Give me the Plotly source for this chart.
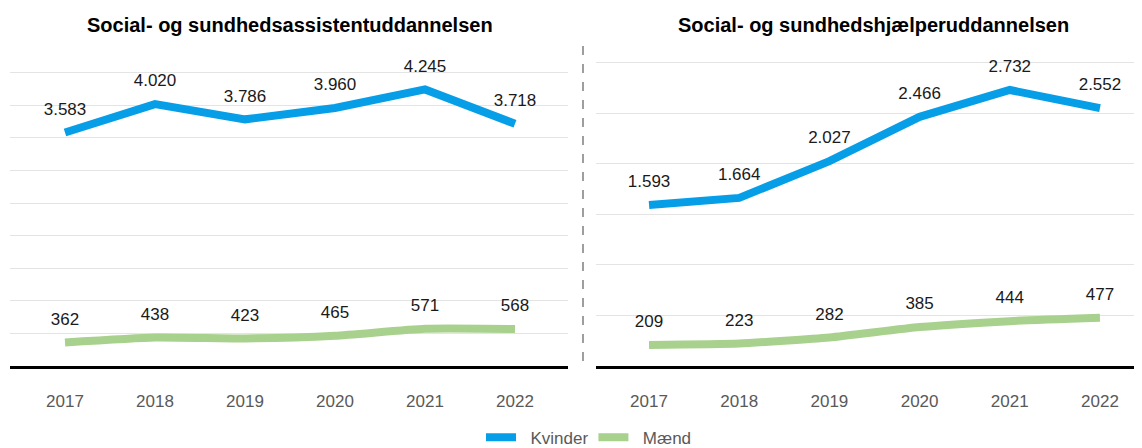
import plotly.graph_objects as go

aar = ["2017", "2018", "2019", "2020", "2021", "2022"]

assistent_kvinder = [3583, 4020, 3786, 3960, 4245, 3718]
assistent_maend = [362, 438, 423, 465, 571, 568]

hjaelper_kvinder = [1593, 1664, 2027, 2466, 2732, 2552]
hjaelper_maend = [209, 223, 282, 385, 444, 477]

titler = ["Social- og sundhedsassistentuddannelsen", "Social- og sundhedshjælperuddannelsen"]
serier = ["Kvinder", "Mænd"]

BLAA = "#079ee8"
GROEN = "#a9d18e"
FONT = "Liberation Sans, Arial, sans-serif"

# siden har 8px kant i browseren; figuren må gerne gå ud over bunden (legenden skæres)
W, H = 1134, 448
T, B = 37, 88
PH = H - T - B


def linje(x, y, navn, farve, akse, vis, form):
    return go.Scatter(
        x=x, y=y, name="\u00a0\u00a0" + navn, mode="lines+markers+text",
        line=dict(color=farve, width=8, shape=form, smoothing=0.5),
        marker=dict(size=20, color="rgba(0,0,0,0)"),
        texttemplate="%{y:,}", textposition="top center",
        textfont=dict(size=17, color="#1a1a1a", family=FONT),
        cliponaxis=False, showlegend=vis, legendgroup=navn,
        xaxis="x" + akse, yaxis="y" + akse,
    )


fig = go.Figure()
fig.add_trace(linje(aar, assistent_kvinder, serier[0], BLAA, "", True, "linear"))
fig.add_trace(linje(aar, assistent_maend, serier[1], GROEN, "", True, "spline"))
fig.add_trace(linje(aar, hjaelper_kvinder, serier[0], BLAA, "2", False, "linear"))
fig.add_trace(linje(aar, hjaelper_maend, serier[1], GROEN, "2", False, "spline"))

xakse = dict(
    type="category", showgrid=False, showline=True, linecolor="black", linewidth=3,
    ticks="", ticklabelstandoff=18, zeroline=False,
    tickfont=dict(size=17, color="#595959", family=FONT),
)
yakse = dict(showticklabels=False, showgrid=True, gridcolor="#e4e4e4", gridwidth=1,
             zeroline=False, dtick=500, showline=False)

fig.update_layout(
    width=W, height=H,
    margin=dict(l=0, r=0, t=T, b=B),
    paper_bgcolor="white", plot_bgcolor="white",
    separators=",.",
    font=dict(family=FONT),
    xaxis=dict(**xakse, domain=[2 / W, 560 / W], range=[-0.611, 5.589]),
    xaxis2=dict(**xakse, domain=[588 / W, 1.0], range=[-0.588, 5.466], anchor="y2"),
    yaxis=dict(**yakse, range=[0, 4927]),
    yaxis2=dict(**yakse, range=[0, 3177], anchor="x2"),
    legend=dict(orientation="h", x=581 / W, xanchor="center", y=-0.223, yanchor="middle",
                font=dict(size=17, color="#595959", family=FONT)),
    annotations=[
        dict(text="<b>" + titler[0] + "</b>", x=282 / W, y=(360 - 17) / PH,
             xref="paper", yref="paper", xanchor="center", yanchor="middle",
             showarrow=False, font=dict(size=20, color="black", family=FONT)),
        dict(text="<b>" + titler[1] + "</b>", x=865 / W, y=(360 - 17) / PH,
             xref="paper", yref="paper", xanchor="center", yanchor="middle",
             showarrow=False, font=dict(size=20, color="black", family=FONT)),
    ],
    shapes=[
        dict(type="line", xref="paper", yref="paper", x0=575 / W, x1=575 / W,
             y0=5 / PH, y1=(360 - 29) / PH,
             line=dict(color="#7f7f7f", width=1.5, dash="dash")),
    ],
)

fig.write_html("out.html")
